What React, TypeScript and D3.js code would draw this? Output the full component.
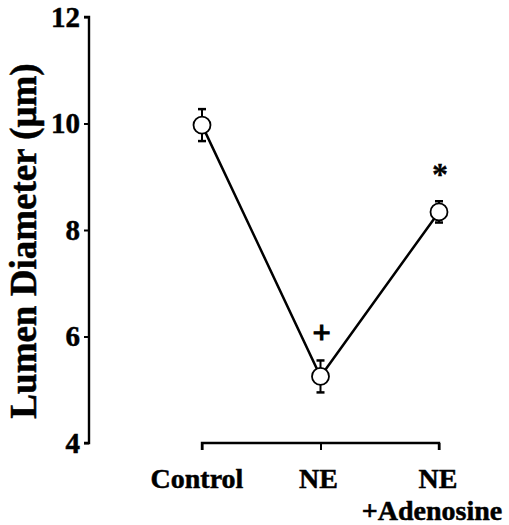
import React, { useEffect, useRef } from "react";
import * as d3 from "d3";

const categories = ["Control", "NE", "NE+Adenosine"];
const means = [9.97, 5.25, 8.34];
const errors = [0.3, 0.3, 0.2];
const marks = ["", "+", "*"];
const yTicks = [4, 6, 8, 10, 12];

const width = 509,
	height = 525;
const FONT = "'Liberation Serif', 'Times New Roman', serif";

export default function App() {
	const ref = useRef<SVGSVGElement | null>(null);

	useEffect(() => {
		const svg = d3.select(ref.current);
		svg.selectAll("*").remove();

		const x = d3.scalePoint<string>().domain(categories).range([202, 439]);
		const y = d3.scaleLinear().domain([4, 12]).range([443, 17]);

		const data = categories.map((c, i) => ({
			c,
			m: means[i],
			e: errors[i],
			mark: marks[i],
		}));

		// y axis
		const yAxis = svg
			.append("g")
			.attr("transform", "translate(89,0)")
			.call(d3.axisLeft(y).tickValues(yTicks).tickSize(5).tickPadding(4).tickFormat(d3.format("d")));
		yAxis.select(".domain").attr("d", `M-5,${y(12)}H0V${y(4)}H-5`).attr("stroke-width", 2.4);
		yAxis.selectAll(".tick line").attr("stroke-width", 2);
		yAxis
			.selectAll(".tick text")
			.attr("font-family", FONT)
			.attr("font-weight", "bold")
			.attr("font-size", 29)
			.attr("stroke", "#000")
			.attr("stroke-width", 0.5)
			.attr("fill", "#000");

		// x axis
		const xAxis = svg
			.append("g")
			.attr("transform", `translate(0,${y(4)})`)
			.call(d3.axisBottom(x).tickSize(7).tickFormat(() => ""));
		xAxis.select(".domain").attr("d", `M202,7V0H439V7`).attr("stroke-width", 2.4);
		xAxis.selectAll(".tick line").attr("stroke-width", 2);

		const labels = svg
			.append("g")
			.attr("font-family", FONT)
			.attr("font-weight", "bold")
			.attr("font-size", 28)
			.attr("stroke", "#000")
			.attr("stroke-width", 0.5)
			.attr("text-anchor", "middle");
		labels.append("text").attr("x", x("Control")! - 5).attr("y", 488).text("Control");
		labels.append("text").attr("x", x("NE")! - 2).attr("y", 488).text("NE");
		labels.append("text").attr("x", x("NE+Adenosine")! - 1).attr("y", 488).text("NE");
		labels.append("text").attr("x", x("NE+Adenosine")! - 7).attr("y", 520).text("+Adenosine");

		// y label
		svg
			.append("text")
			.attr("transform", "translate(36,241) rotate(-90)")
			.attr("text-anchor", "middle")
			.attr("font-family", FONT)
			.attr("font-weight", "bold")
			.attr("font-size", 37)
			.attr("stroke", "#000")
			.attr("stroke-width", 0.5)
			.text("Lumen Diameter (\u03bcm)");

		// line
		const line = d3
			.line<(typeof data)[0]>()
			.x((d) => x(d.c)!)
			.y((d) => y(d.m));
		svg.append("path").datum(data).attr("d", line).attr("fill", "none").attr("stroke", "#000").attr("stroke-width", 2.5);

		// error bars
		const eb = svg.append("g").attr("stroke", "#000").attr("stroke-width", 2);
		data.forEach((d) => {
			const cx = x(d.c)!;
			eb.append("line").attr("x1", cx).attr("x2", cx).attr("y1", y(d.m + d.e)).attr("y2", y(d.m - d.e));
			eb.append("line").attr("x1", cx - 4).attr("x2", cx + 4).attr("y1", y(d.m + d.e)).attr("y2", y(d.m + d.e)).attr("stroke-width", 2.5);
			eb.append("line").attr("x1", cx - 4).attr("x2", cx + 4).attr("y1", y(d.m - d.e)).attr("y2", y(d.m - d.e)).attr("stroke-width", 2.5);
		});

		// points
		svg
			.append("g")
			.selectAll("circle")
			.data(data)
			.join("circle")
			.attr("cx", (d) => x(d.c)!)
			.attr("cy", (d) => y(d.m))
			.attr("r", 8.5)
			.attr("fill", "#fff")
			.attr("stroke", "#000")
			.attr("stroke-width", 1.8);

		// significance marks
		svg
			.append("g")
			.selectAll("text")
			.data(data.filter((d) => d.mark))
			.join("text")
			.attr("x", (d) => x(d.c)! + 1)
			.attr("y", (d) => y(d.m + d.e) - (d.mark === "*" ? 37 : 29))
			.attr("text-anchor", "middle")
			.attr("font-family", FONT)
			.attr("font-weight", "bold")
			.attr("font-size", (d) => (d.mark === "*" ? 32 : 32))
			.attr("stroke", "#000")
			.attr("stroke-width", (d) => (d.mark === "*" ? 0.3 : 1.2))
			.attr("dy", (d) => (d.mark === "*" ? "0.65em" : "0.35em"))
			.text((d) => d.mark);
	}, []);

	return (
		<svg
			ref={ref}
			width={width}
			height={height}
			style={{ position: "absolute", left: 0, top: 0, background: "#fff" }}
		/>
	);
}
